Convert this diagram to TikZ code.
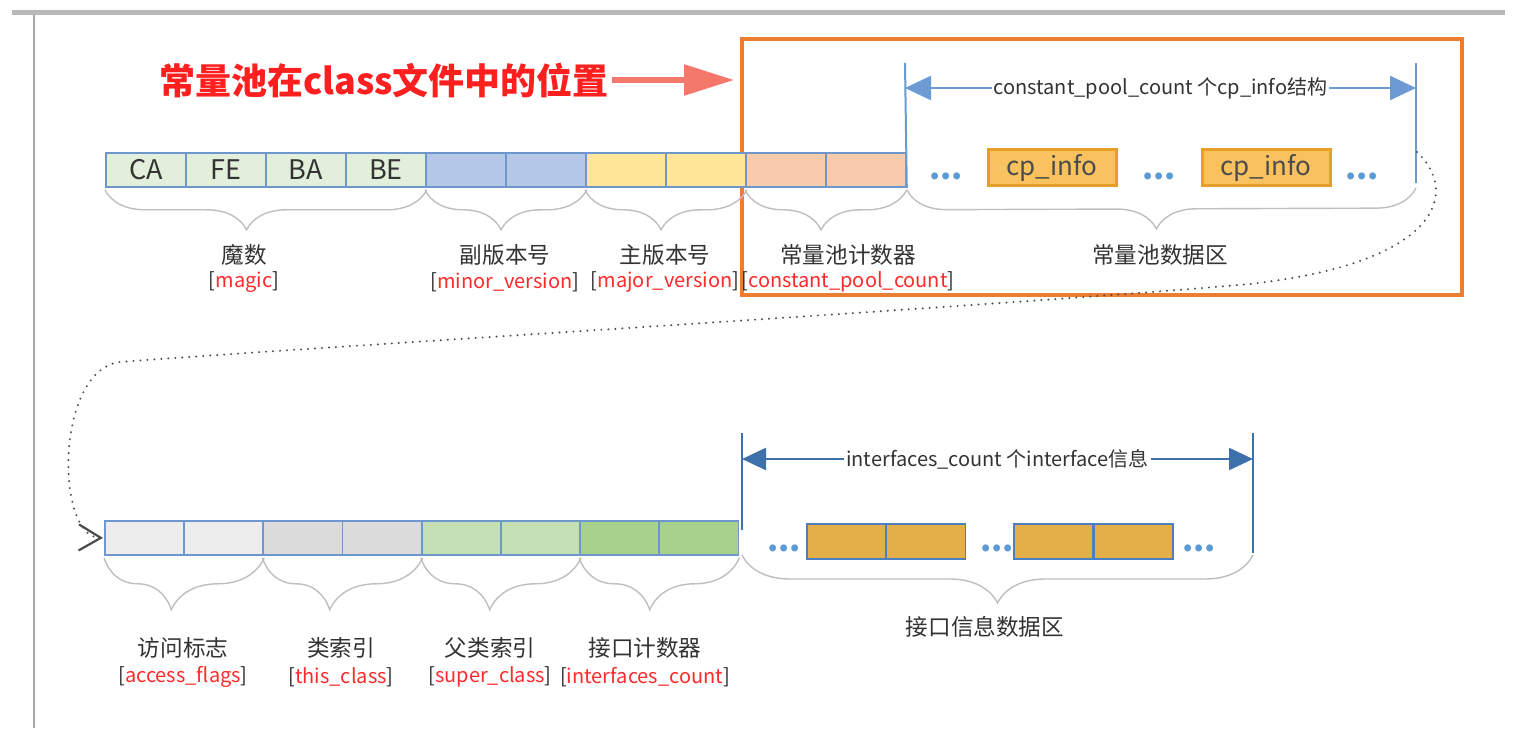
\documentclass[tikz,border=0pt]{standalone}
\usepackage{fontspec}
\setmainfont{Noto Sans CJK SC}
\usetikzlibrary{arrows.meta,decorations.pathreplacing,positioning}

\definecolor{cellline}{HTML}{6E98CC}
\definecolor{magicfill}{HTML}{E2EFDA}
\definecolor{minorfill}{HTML}{B4C7E7}
\definecolor{majorfill}{HTML}{FFE699}
\definecolor{countfill}{HTML}{F8CBAD}
\definecolor{accfill}{HTML}{EDEDED}
\definecolor{thisfill}{HTML}{DBDBDB}
\definecolor{superfill}{HTML}{C5E0B4}
\definecolor{ifcfill}{HTML}{A9D18E}
\definecolor{cpfill}{HTML}{F9C25E}
\definecolor{cpline}{HTML}{E6A02A}
\definecolor{iffill}{HTML}{E2AF48}
\definecolor{ifline}{HTML}{4E7FBD}
\definecolor{bracegray}{HTML}{BFBFBF}
\definecolor{labelred}{HTML}{FF2A2A}
\definecolor{titlered}{HTML}{FF1F1F}
\definecolor{arrowred}{HTML}{F4796C}
\definecolor{poolorange}{HTML}{ED7D31}
\definecolor{topblue}{HTML}{6B9BD2}
\definecolor{lowblue}{HTML}{3E70A9}
\definecolor{dotblue}{HTML}{5B9BD5}

\tikzset{
  cell/.style={draw=cellline,line width=0.9pt,minimum width=40pt,minimum height=17pt,
    inner sep=0pt,anchor=north west,font=\fontsize{13.5}{14}\selectfont,text=black!80},
  cpbox/.style={draw=cpline,fill=cpfill,line width=1.5pt,minimum width=64pt,minimum height=18pt,
    inner sep=0pt,font=\fontsize{13}{13}\selectfont,text=black!70},
  ifbox/.style={draw=ifline,fill=iffill,line width=0.9pt,minimum width=39.5pt,minimum height=17.5pt,
    inner sep=0pt,anchor=north west},
  brc/.style={draw=bracegray,line width=0.7pt,decorate,decoration={brace,amplitude=#1}},
  brc/.default=20pt,
  zh/.style={font=\fontsize{11.3}{12}\selectfont,text=black!80},
  en/.style={font=\fontsize{10}{11}\selectfont,text=black!85},
  ell/.style={font=\fontsize{16}{16}\selectfont\bfseries,text=dotblue,anchor=base,inner sep=0pt},
  dimtxt/.style={fill=white,inner sep=1pt,font=\fontsize{10}{11}\selectfont,text=black!80},
}

\begin{document}
\begin{tikzpicture}[x=0.5pt,y=-0.5pt]
\useasboundingbox (0,0) rectangle (1538,738);
\fill[white] (0,0) rectangle (1538,738);

% slide edges
\draw[black!28,line width=2.5pt] (12,13) -- (1505,13);
\draw[black!35,line width=0.8pt] (34,15) -- (34,728);

% title
\node[font=\fontsize{18}{18}\selectfont\bfseries,text=titlered] (title) at (384,80) {常量池在class文件中的位置};
\node[draw=poolorange,line width=2pt,minimum width=360pt,minimum height=128pt,anchor=north west] (pool) at (740,37) {};
\draw[arrowred,line width=2.8pt,-{Triangle[length=25pt,width=15pt]}] ([xshift=-2pt]title.east) -- ([xshift=-3pt]pool.west |- title.east);

% top row
\foreach \i/\txt/\col in {0/CA/magicfill,1/FE/magicfill,2/BA/magicfill,3/BE/magicfill,
  4//minorfill,5//minorfill,6//majorfill,7//majorfill,8//countfill,9//countfill}{
  \node[cell,fill=\col] (t\i) at ({105+80*\i},152) {\txt};
}

\draw[brc,decoration={aspect=0.56}] ([yshift=-1pt]t3.south east) -- ([yshift=-1pt]t0.south west);
\draw[brc,decoration={aspect=0.53}] ([yshift=-1pt]t5.south east) -- ([yshift=-1pt]t4.south west);
\draw[brc,decoration={aspect=0.53}] ([yshift=-1pt]t7.south east) -- ([yshift=-1pt]t6.south west);
\draw[brc,decoration={aspect=0.53}] ([yshift=-1pt]t9.south east) -- ([yshift=-1pt]t8.south west);

\node[zh] (magiczh) at (244,255) {魔数};
\node[en] (magicen) at (244,282) {[{\color{labelred}magic}]};
\node[zh] (minorzh) at (505,255) {副版本号};
\node[en] (minoren) at (505,282) {[{\color{labelred}minor\_version}]};
\node[zh] (majorzh) at (665,255) {主版本号};
\node[en] (majoren) at (665,282) {[{\color{labelred}major\_version}]};
\node[zh] (countzh) at (848,255) {常量池计数器};
\node[en] (counten) at (848,282) {[{\color{labelred}constant\_pool\_count}]};

% constant pool area
\coordinate (cpl) at (905,63);
\coordinate (cpr) at (1416,63);
\coordinate (cprb) at (1416,183);
\draw[topblue,line width=1pt] (cpl) -- (t9.south east);
\draw[topblue,line width=1pt] (cpr) -- (cprb);
\draw[topblue,line width=1.2pt,{Triangle[length=13pt,width=12pt]}-{Triangle[length=13pt,width=12pt]}]
  ([yshift=-12.5pt]cpl) -- ([yshift=-12.5pt]cpr) node[dimtxt,midway] (cptxt) {constant\_pool\_count 个cp\_info结构};

\node[cpbox] (cp1) at (1052,168) {cp\_info};
\node[cpbox] (cp2) at (1266,168) {cp\_info};
\node[ell] (d1) at (946,179) {...};
\node[ell] (d2) at (1159,179) {...};
\node[ell] (d3) at (1362,179) {...};

\draw[brc,decoration={aspect=0.51}] ([yshift=-2.5pt]cprb) -- ([yshift=-1pt]t9.south east);
\node[zh] (poolzh) at (1160,255) {常量池数据区};

% bottom row
\foreach \i/\col in {0/accfill,1/accfill,2/thisfill,3/thisfill,4/superfill,5/superfill,6/ifcfill,7/ifcfill}{
  \node[cell,fill=\col,minimum width=39.6pt] (b\i) at ({104+79.2*\i},520) {};
}

\draw[brc=26pt,decoration={aspect=0.58}] ([yshift=-1pt]b1.south east) -- ([yshift=-1pt]b0.south west);
\draw[brc=26pt,decoration={aspect=0.58}] ([yshift=-1pt]b3.south east) -- ([yshift=-1pt]b2.south west);
\draw[brc=26pt,decoration={aspect=0.57}] ([yshift=-1pt]b5.south east) -- ([yshift=-1pt]b4.south west);
\draw[brc=26pt,decoration={aspect=0.56}] ([yshift=-1pt]b7.south east) -- ([yshift=-1pt]b6.south west);

\node[zh] (acczh) at (183,648) {访问标志};
\node[en] (accen) at (183,677) {[{\color{labelred}access\_flags}]};
\node[zh] (thiszh) at (341,648) {类索引};
\node[en] (thisen) at (341,677) {[{\color{labelred}this\_class}]};
\node[zh] (superzh) at (490,648) {父类索引};
\node[en] (superen) at (490,677) {[{\color{labelred}super\_class}]};
\node[zh] (ifczh) at (645,648) {接口计数器};
\node[en] (ifcen) at (645,677) {[{\color{labelred}interfaces\_count}]};

% interfaces area
\coordinate (ifl) at (742,433);
\coordinate (iflb) at (742,530);
\coordinate (ifr) at (1253,433);
\coordinate (ifrb) at (1253,553);
\draw[lowblue,line width=1.4pt] (ifl) -- (iflb);
\draw[lowblue,line width=1.4pt] (ifr) -- (ifrb);
\draw[lowblue,line width=1.2pt,{Triangle[length=12pt,width=11pt]}-{Triangle[length=12pt,width=11pt]}]
  ([yshift=-13pt]ifl) -- ([yshift=-13pt]ifr) node[dimtxt,midway] (iftxt) {interfaces\_count 个interface信息};

\foreach \i/\x in {0/806,1/885.5,2/1013,3/1093}{
  \node[ifbox] (if\i) at (\x,523) {};
}
\node[ell] (e1) at (784,551) {...};
\node[ell] (e2) at (997,551) {...};
\node[ell] (e3) at (1199,551) {...};

\draw[brc=24pt] ([yshift=-1pt]ifrb) -- ([yshift=-1pt]ifrb -| ifl);
\node[zh] (ifzh) at (985,627) {接口信息数据区};

% link from the first row to the second
\coordinate (linkstart) at (1417,152);
\draw[black!70,line width=1.1pt,line cap=round,dash pattern=on 0pt off 3.5pt,
  -{Straight Barb[length=11pt,width=13pt,line width=1.1pt]}]
  (linkstart) .. controls (1458,190) and (1445,262) .. (1250,284)
  .. controls (1000,306) and (300,348) .. (120,362)
  .. controls (55,370) and (55,537) .. ([xshift=-0.5pt]b0.west);
\end{tikzpicture}
\end{document}
